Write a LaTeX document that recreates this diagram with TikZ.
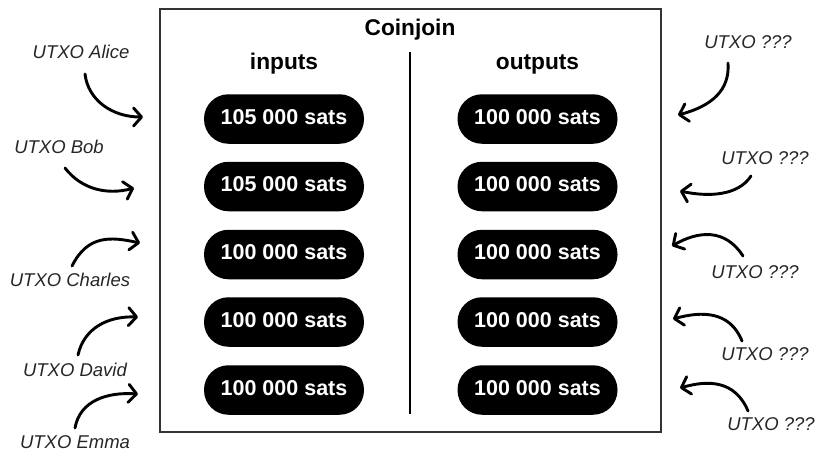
\documentclass[tikz,border=0pt]{standalone}
\usepackage{fontspec}
\setmainfont{Liberation Sans}
\usetikzlibrary{arrows.meta}
\tikzset{
  pill/.style={fill=black,text=white,rounded corners=24.5pt,minimum width=160pt,minimum height=49.5pt,inner sep=0pt,text height=15.5pt,text depth=5pt,font=\fontsize{21.5pt}{24pt}\selectfont\bfseries},
  head/.style={inner sep=0pt,anchor=base,font=\fontsize{22.7pt}{26pt}\selectfont\bfseries},
  utxo/.style={inner sep=0pt,text=black!85,font=\fontsize{18.5pt}{22pt}\selectfont\itshape},
  hand/.style={line width=2.9pt,line cap=round,line join=round,-{Straight Barb[length=8pt,width=18pt,line width=2.9pt,round]}},
}
\begin{document}
\begin{tikzpicture}[x=1pt,y=-1pt]
\useasboundingbox (0,0) rectangle (815,451);
\node[draw=black!80,line width=1.6pt,minimum width=501pt,minimum height=423pt,inner sep=0pt] (frame) at (410.5,220.5) {};
\node[head] (title) at (410,35) {Coinjoin};
\node[head] (inputs) at (284,69) {inputs};
\node[head] (outputs) at (537.5,69) {outputs};
\coordinate (divtop) at (410,52);
\coordinate (divbot) at (410,414);
\draw[line width=2.2pt] (divtop) -- (divbot);
\node[pill] (i1) at (284,119) {105 000 sats};
\node[pill] (i2) at (284,186.5) {105 000 sats};
\node[pill] (i3) at (284,254.5) {100 000 sats};
\node[pill] (i4) at (284,322) {100 000 sats};
\node[pill] (i5) at (284,390) {100 000 sats};
\node[pill] (o1) at (537.5,119) {100 000 sats};
\node[pill] (o2) at (537.5,186.5) {100 000 sats};
\node[pill] (o3) at (537.5,254.5) {100 000 sats};
\node[pill] (o4) at (537.5,322) {100 000 sats};
\node[pill] (o5) at (537.5,390) {100 000 sats};
\node[utxo] (alice) at (81,52) {UTXO Alice};
\node[utxo] (bob) at (59,147) {UTXO Bob};
\node[utxo] (charles) at (70,280) {UTXO Charles};
\node[utxo] (david) at (75,370) {UTXO David};
\node[utxo] (emma) at (75,442) {UTXO Emma};
\node[utxo] (r1) at (748,42) {UTXO ???};
\node[utxo] (r2) at (765,158) {UTXO ???};
\node[utxo] (r3) at (755,272) {UTXO ???};
\node[utxo] (r4) at (765,354) {UTXO ???};
\node[utxo] (r5) at (771,424) {UTXO ???};
\coordinate (a1) at (85,74);   \coordinate (a2) at (143,117);
\coordinate (b1) at (65,168);  \coordinate (b2) at (134,188);
\coordinate (c1) at (72,266);  \coordinate (c2) at (140,243);
\coordinate (d1) at (78,355);  \coordinate (d2) at (138,317);
\coordinate (e1) at (75,428);  \coordinate (e2) at (138,394);
\coordinate (f1) at (728,63);  \coordinate (f2) at (678,115);
\coordinate (g1) at (751,176); \coordinate (g2) at (680,191);
\coordinate (h1) at (743,256); \coordinate (h2) at (672,246);
\coordinate (j1) at (742,341); \coordinate (j2) at (673,319);
\coordinate (k1) at (748,411); \coordinate (k2) at (680,388);
\draw[hand] (a1) .. controls (88,100) and (112,117) .. (a2);
\draw[hand] (b1) .. controls (82,190) and (108,195) .. (b2);
\draw[hand] (c1) .. controls (88,234) and (112,237) .. (c2);
\draw[hand] (d1) .. controls (84,328) and (108,316) .. (d2);
\draw[hand] (e1) .. controls (80,400) and (108,392) .. (e2);
\draw[hand] (f1) .. controls (730,90) and (712,106) .. (f2);
\draw[hand] (g1) .. controls (738,196) and (708,197) .. (g2);
\draw[hand] (h1) .. controls (725,228) and (698,231) .. (h2);
\draw[hand] (j1) .. controls (730,311) and (702,311) .. (j2);
\draw[hand] (k1) .. controls (735,380) and (708,380) .. (k2);
\end{tikzpicture}
\end{document}
